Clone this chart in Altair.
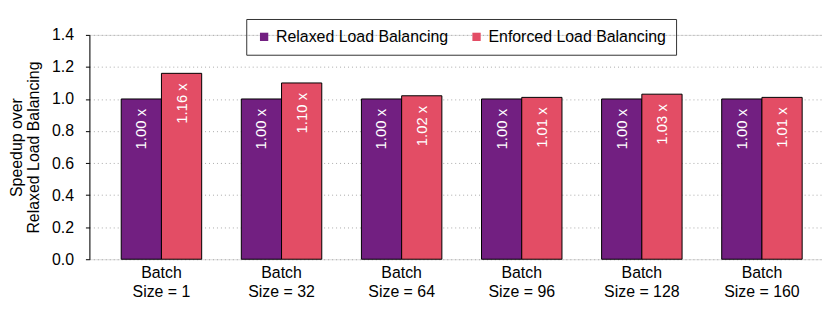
import altair as alt
import pandas as pd

batches = ["Batch\nSize = 1", "Batch\nSize = 32", "Batch\nSize = 64", "Batch\nSize = 96", "Batch\nSize = 128", "Batch\nSize = 160"]
series = ["Relaxed Load Balancing", "Enforced Load Balancing"]
relaxed = [1.00, 1.00, 1.00, 1.00, 1.00, 1.00]
enforced = [1.16, 1.10, 1.02, 1.01, 1.03, 1.01]
colors = ["#721F81", "#E34D65"]

rows = []
for b, r, e in zip(batches, relaxed, enforced):
    rows.append({"batch": b, "series": series[0], "value": r, "label": f"{r:.2f} x"})
    rows.append({"batch": b, "series": series[1], "value": e, "label": f"{e:.2f} x"})
df = pd.DataFrame(rows)

FONT = "Liberation Sans"
FS = 16

x = alt.X("batch:N", sort=batches, title=None,
          scale=alt.Scale(paddingInner=0.33, paddingOuter=0.215, align=0.616),
          axis=alt.Axis(labelExpr="split(datum.label, '\\n')", labelAngle=0, domain=False, ticks=False,
                        labelFontSize=FS, labelFont=FONT, labelColor="black", labelPadding=5,
                        labelLineHeight=20))
xo = alt.XOffset("series:N", sort=series)
y = alt.Y("value:Q", title=["Speedup over", "Relaxed Load Balancing"],
          scale=alt.Scale(domain=[0, 1.4], nice=False),
          axis=alt.Axis(values=[0, 0.2, 0.4, 0.6, 0.8, 1.0, 1.2, 1.4], format=".1f",
                        grid=True, gridDash=[1, 3], gridColor="#aaaaaa", gridWidth=1,
                        domainColor="black", tickColor="black", tickSize=4,
                        labelFontSize=FS, labelFont=FONT, labelColor="black", labelPadding=12,
                        titleFontSize=FS, titleFont=FONT, titleFontWeight="normal", titleColor="black",
                        titlePadding=10, titleLineHeight=17))

bars = alt.Chart(df).mark_bar(stroke="black", strokeWidth=1).encode(
    x=x, xOffset=xo, y=y,
    color=alt.Color("series:N", sort=series, scale=alt.Scale(domain=series, range=colors),
                    legend=alt.Legend(title=None, orient="none", direction="horizontal",
                                      legendX=158, legendY=-16, strokeColor="#333333",
                                      padding=10, symbolType="square", symbolSize=70,
                                      labelFontSize=FS, labelFont=FONT, labelColor="black",
                                      labelLimit=0, columnPadding=20, symbolStrokeWidth=0))
)

text = alt.Chart(df).mark_text(angle=270, align="right", baseline="middle", dx=-10,
                               color="white", fontSize=15, font=FONT).encode(
    x=x, xOffset=xo, y=y, text="label:N"
)

chart = (bars + text).properties(width=738, height=226).configure_view(stroke=None).configure(
    padding={"left": 0, "right": 0, "top": 9, "bottom": 0}
)

chart.save("out.html", embed_options={"renderer": "svg", "actions": False})
